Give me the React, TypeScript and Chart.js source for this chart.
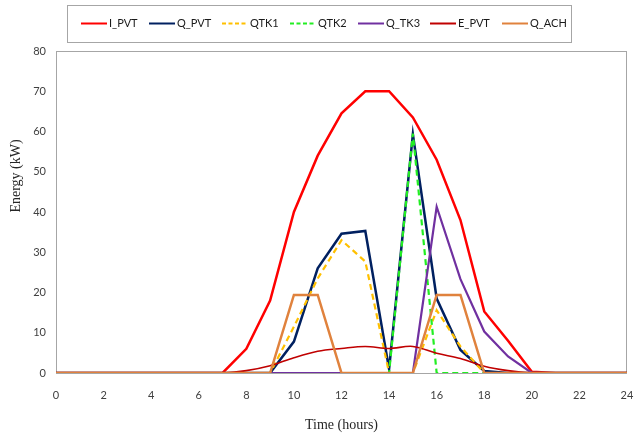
import { useEffect, useRef } from "react";
import { Chart, registerables } from "chart.js";

Chart.register(...registerables);

const HOURS = [0, 1, 2, 3, 4, 5, 6, 7, 8, 9, 10, 11, 12, 13, 14, 15, 16, 17, 18, 19, 20, 21, 22, 23, 24];
const I_PVT = [0, 0, 0, 0, 0, 0, 0, 0, 6, 18, 40, 54, 64.5, 70, 70, 63.5, 53, 38, 15.3, 8, 0.3, 0, 0, 0, 0];
const Q_PVT = [0, 0, 0, 0, 0, 0, 0, 0, 0, 0, 7.8, 26, 34.6, 35.3, 1, 59.3, 18.5, 5.7, 0.5, 0, 0, 0, 0, 0, 0];
const QTK1 = [0, 0, 0, 0, 0, 0, 0, 0, 0, 0, 11.5, 23.5, 33, 27.7, 0, 0, 15.6, 6.6, 0, 0, 0, 0, 0, 0, 0];
const QTK2 = [0, 0, 0, 0, 0, 0, 0, 0, 0, 0, 0, 0, 0, 0, 0, 59.5, 0, 0, 0, 0, 0, 0, 0, 0, 0];
const Q_TK3 = [0, 0, 0, 0, 0, 0, 0, 0, 0, 0, 0, 0, 0, 0, 0, 0, 41.3, 23.3, 10.3, 4.1, 0, 0, 0, 0, 0];
const E_PVT = [0, 0, 0, 0, 0, 0, 0, 0, 0.6, 1.8, 3.8, 5.4, 6.1, 6.6, 6.1, 6.6, 4.9, 3.6, 1.7, 0.6, 0, 0, 0, 0, 0];
const Q_ACH = [0, 0, 0, 0, 0, 0, 0, 0, 0, 0, 19.4, 19.4, 0, 0, 0, 0, 19.4, 19.4, 0, 0, 0, 0, 0, 0, 0];

const SERIES_NAMES = ["I_PVT", "Q_PVT", "QTK1", "QTK2", "Q_TK3", "E_PVT", "Q_ACH"];
const SERIES_VALUES = [I_PVT, Q_PVT, QTK1, QTK2, Q_TK3, E_PVT, Q_ACH];
const SERIES_COLORS = ["#ff0000", "#002060", "#ffc000", "#22ee22", "#7030a0", "#c00000", "#e0823d"];
const SERIES_WIDTHS = [2.5, 2.5, 2.2, 2.2, 2.2, 1.6, 2.5];
const SERIES_DASH: number[][] = [[], [], [6, 4], [6, 4], [], [], []];
const SERIES_TENSION = [0, 0, 0, 0, 0, 0.35, 0];

const X_TITLE = "Time (hours)";
const Y_TITLE = "Energy (kW)";

const TICK_FONT = "'Liberation Sans Narrow', Lato, sans-serif";
const TITLE_FONT = "'Liberation Serif', 'DejaVu Serif', serif";

// legend layout (x position where each item's line sample starts)
const LEGEND_ITEM_X = [81, 149, 222, 290, 358, 430, 502];

const decorPlugin = {
  id: "decor",
  beforeDatasetsDraw(chart: any) {
    const { ctx, chartArea } = chart;
    const { left, top, right, bottom } = chartArea;
    ctx.save();
    ctx.strokeStyle = "#a6a6a6";
    ctx.lineWidth = 1;
    ctx.strokeRect(Math.round(left) + 0.5, Math.round(top) + 0.5, Math.round(right - left) - 1, Math.round(bottom - top));
    ctx.restore();
  },
  afterDraw(chart: any) {
    const { ctx, chartArea } = chart;
    ctx.save();
    // axis titles
    ctx.fillStyle = "#262626";
    ctx.font = `14px ${TITLE_FONT}`;
    ctx.textAlign = "center";
    ctx.textBaseline = "middle";
    ctx.fillText(X_TITLE, (chartArea.left + chartArea.right) / 2, 425);
    ctx.save();
    ctx.translate(16, 176);
    ctx.rotate(-Math.PI / 2);
    ctx.fillText(Y_TITLE, 0, 0);
    ctx.restore();

    // legend box
    const boxL = 67.5, boxT = 5.5, boxR = 571.5, boxB = 42.5;
    ctx.strokeStyle = "#a6a6a6";
    ctx.lineWidth = 1;
    ctx.strokeRect(boxL, boxT, boxR - boxL, boxB - boxT);
    ctx.font = `11px ${TICK_FONT}`;
    const lineLen = 26, gapText = 2;
    const cy = 23.5;
    ctx.textAlign = "left";
    ctx.textBaseline = "middle";
    SERIES_NAMES.forEach((name, i) => {
      const x = LEGEND_ITEM_X[i];
      ctx.strokeStyle = SERIES_COLORS[i];
      ctx.lineWidth = 2;
      ctx.setLineDash(SERIES_DASH[i].length ? [4, 2.5] : []);
      ctx.beginPath();
      ctx.moveTo(x, cy);
      ctx.lineTo(x + lineLen, cy);
      ctx.stroke();
      ctx.setLineDash([]);
      ctx.fillStyle = "#1a1a1a";
      ctx.fillText(name, x + lineLen + gapText, cy);
    });
    ctx.restore();
  },
};

export default function App() {
  const ref = useRef<HTMLCanvasElement | null>(null);

  useEffect(() => {
    document.body.style.margin = "0";
    const canvas = ref.current;
    if (!canvas) return;
    const n = SERIES_NAMES.length;
    const chart = new Chart(canvas, {
      type: "line",
      data: {
        datasets: SERIES_NAMES.map((name, i) => ({
          label: name,
          data: HOURS.map((h, k) => ({ x: h, y: SERIES_VALUES[i][k] })),
          borderColor: SERIES_COLORS[i],
          backgroundColor: SERIES_COLORS[i],
          borderWidth: SERIES_WIDTHS[i],
          borderDash: SERIES_DASH[i],
          tension: SERIES_TENSION[i],
          pointRadius: 0,
          pointHoverRadius: 0,
          fill: false,
          order: n - 1 - i,
          borderJoinStyle: "miter" as const,
        })),
      },
      options: {
        responsive: false,
        animation: false,
        devicePixelRatio: 1,
        layout: { padding: { top: 51, right: 7, left: 0, bottom: 0 } },
        plugins: {
          legend: { display: false },
          tooltip: { enabled: false },
          title: { display: false },
        },
        scales: {
          x: {
            type: "linear",
            min: 0,
            max: 24,
            grid: { display: false, drawTicks: false },
            border: { display: false },
            ticks: {
              stepSize: 2,
              padding: 16,
              color: "#404040",
              font: { family: TICK_FONT, size: 11 },
              maxRotation: 0,
            },
            afterFit: (scale: any) => {
              scale.height = 63;
              scale.paddingLeft = 0;
              scale.paddingRight = 0;
            },
          },
          y: {
            type: "linear",
            min: 0,
            max: 80,
            grid: { display: false, drawTicks: false },
            border: { display: false },
            ticks: {
              stepSize: 10,
              padding: 10,
              color: "#404040",
              font: { family: TICK_FONT, size: 11 },
            },
            afterFit: (scale: any) => {
              scale.width = 56;
              scale.paddingTop = 0;
              scale.paddingBottom = 0;
            },
          },
        },
      },
      plugins: [decorPlugin],
    });
    return () => chart.destroy();
  }, []);

  return (
    <div style={{ width: 634, height: 436 }}>
      <canvas ref={ref} width={634} height={436} style={{ display: "block" }} />
    </div>
  );
}
